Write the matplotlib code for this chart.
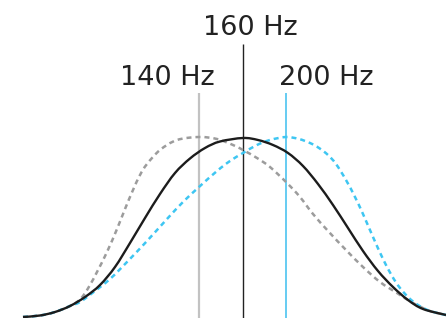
import matplotlib
matplotlib.use("Agg")
import matplotlib.pyplot as plt
from matplotlib.path import Path
from matplotlib.patches import PathPatch

# response curves (position, height above baseline)
pos_160 = [23, 40, 55, 70, 85, 100, 115, 130, 145, 160, 175, 190, 205, 220,
           243, 258, 273, 288, 303, 318, 333, 348, 363, 378, 393, 408, 423, 446]
amp_160 = [0, 1.5, 5, 11, 20, 32, 50, 74, 99, 123, 144, 158.5, 169, 175.5,
           179, 177, 172, 164, 151, 133, 112, 89, 66, 46, 30, 17, 8, 2]

pos_140 = [23, 40, 55, 70, 77, 83, 90, 97, 107, 117, 125, 133, 140, 147,
           160, 177, 199, 217, 233, 243, 257, 270, 287, 300, 313, 329, 346,
           363, 380, 397, 413, 430, 446]
amp_140 = [0, 1.5, 5, 11, 15, 21, 32, 45, 65, 88, 108, 127, 142, 153,
           167, 177, 180, 178, 172, 167, 159, 150, 134, 120, 103, 85, 67,
           50, 35, 24, 14, 6, 2]

pos_200 = [23, 40, 55, 70, 80, 93, 110, 127, 147, 167, 183, 199, 217, 230,
           243, 257, 270, 286, 299, 310, 319, 328, 336, 346, 355, 363, 373,
           383, 392, 400, 409, 418, 430, 446]
amp_200 = [0, 1.5, 5, 11, 15, 24.5, 38, 55, 76, 98, 115, 130, 146, 156,
           164, 172, 177, 180, 178, 174, 169, 162, 153, 137, 120, 103, 80,
           58, 41, 29, 19, 12, 6, 2]

# marker lines and labels
marker_pos = [199, 243, 286]
marker_top = [224, 273, 224]
marker_colors = ["#c2c2c2", "#222222", "#4cc4f0"]
marker_widths = [1.6, 1.0, 1.2]
labels = ["140 Hz", "160 Hz", "200 Hz"]
label_x = [167, 250, 326]
label_y = [232, 282, 232]


def smooth_path(xs, ys):
    # Catmull-Rom through the read points, drawn as cubic bezier segments
    pts = list(zip(xs, ys))
    verts = [pts[0]]
    codes = [Path.MOVETO]
    for i in range(len(pts) - 1):
        p0 = pts[i - 1] if i > 0 else pts[i]
        p1 = pts[i]
        p2 = pts[i + 1]
        p3 = pts[i + 2] if i + 2 < len(pts) else pts[i + 1]
        c1 = (p1[0] + (p2[0] - p0[0]) / 6, p1[1] + (p2[1] - p0[1]) / 6)
        c2 = (p2[0] - (p3[0] - p1[0]) / 6, p2[1] - (p3[1] - p1[1]) / 6)
        verts += [c1, c2, p2]
        codes += [Path.CURVE4] * 3
    return Path(verts, codes)


fig = plt.figure(figsize=(4.46, 3.18), dpi=100)
ax = fig.add_axes([0, 0, 1, 1])
ax.set_xlim(0, 446)
ax.set_ylim(-1, 317)
ax.axis("off")

for x, top, c, w in zip(marker_pos, marker_top, marker_colors, marker_widths):
    ax.vlines(x, -1, top, color=c, linewidth=w, zorder=1)

ax.add_patch(PathPatch(smooth_path(pos_140, amp_140), fill=False,
                       edgecolor="#9c9c9c", linewidth=1.8,
                       linestyle=(0, (2.0, 1.6)), zorder=2))
ax.add_patch(PathPatch(smooth_path(pos_200, amp_200), fill=False,
                       edgecolor="#3ec6f2", linewidth=1.8,
                       linestyle=(0, (2.0, 1.6)), zorder=2))
ax.add_patch(PathPatch(smooth_path(pos_160, amp_160), fill=False,
                       edgecolor="#1c1c1c", linewidth=1.7, zorder=3))

for txt, x, y in zip(labels, label_x, label_y):
    ax.text(x, y, txt, ha="center", va="baseline", fontsize=19.5,
            color="#222222")

fig.savefig("out.png", dpi=100)
